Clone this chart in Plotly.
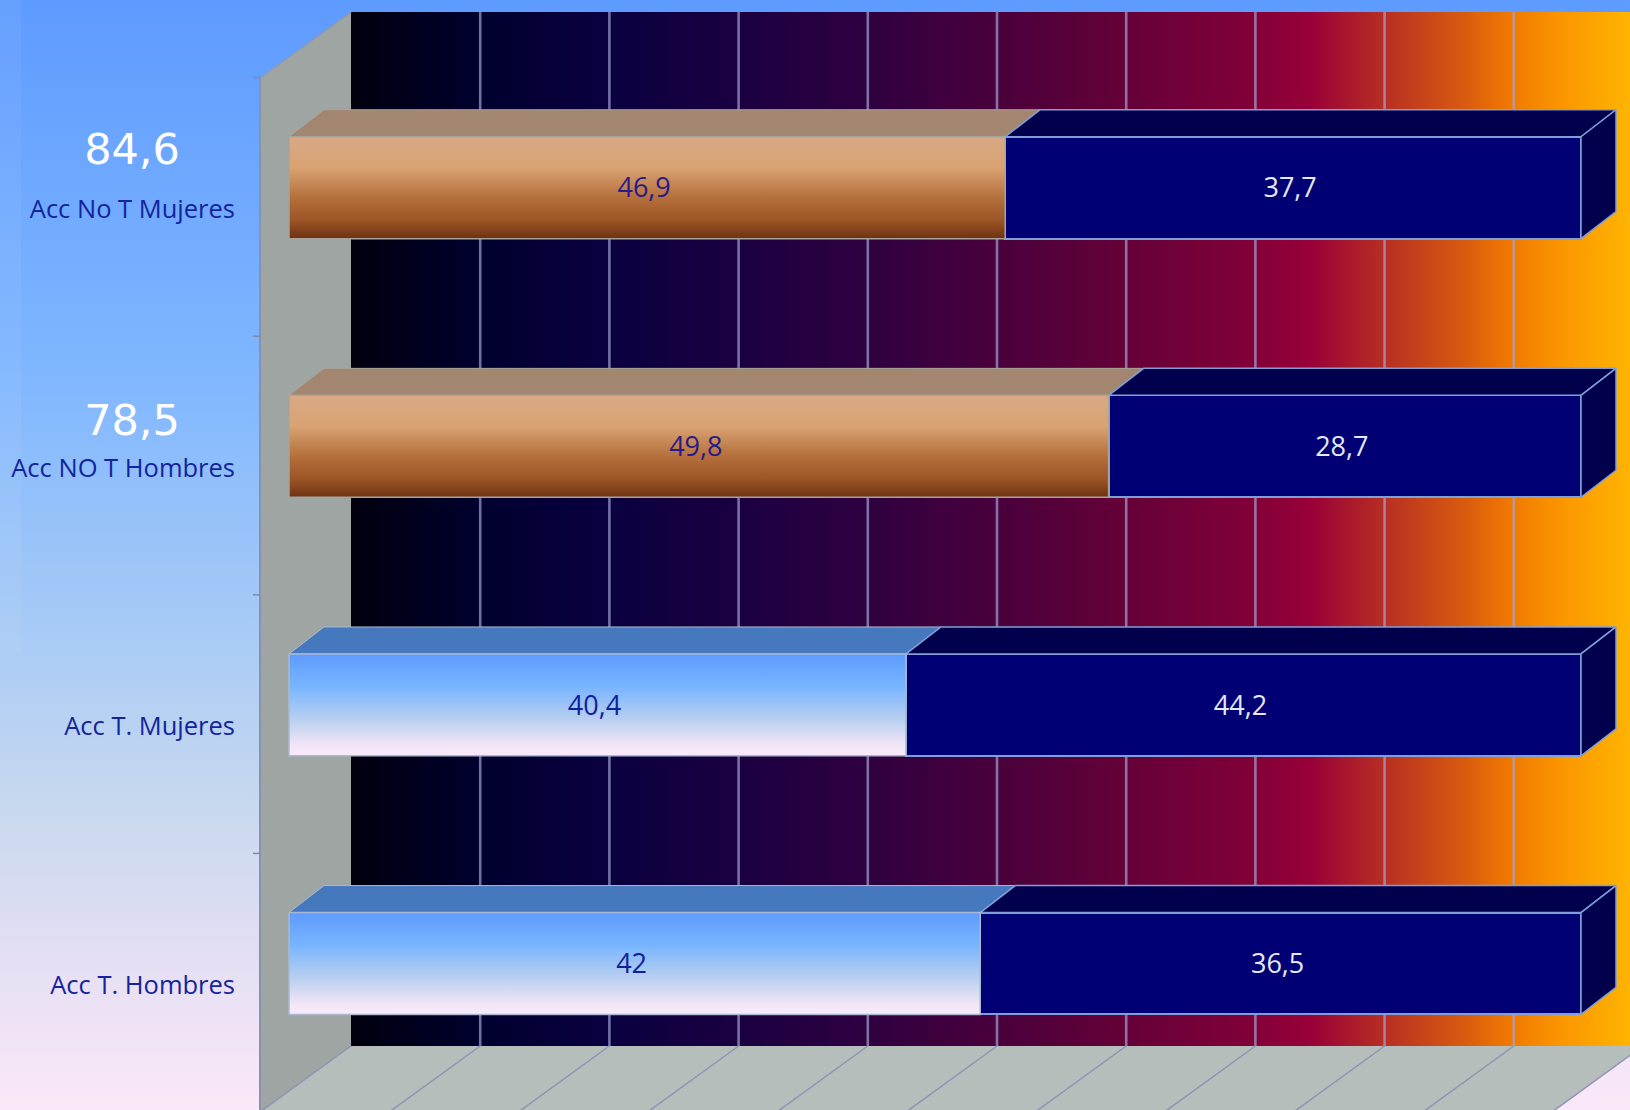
import plotly.graph_objects as go

# ---- data -------------------------------------------------------------
categories = ["Acc T. Hombres", "Acc T. Mujeres", "Acc NO T Hombres", "Acc No T Mujeres"]
first_segment = [42, 40.4, 49.8, 46.9]
second_segment = [36.5, 44.2, 28.7, 37.7]
total_labels = ["", "", "78,5", "84,6"]
share_ticks = [0, 10, 20, 30, 40, 50, 60, 70, 80, 90, 100]

# ---- geometry of the fake 3D box, in axis units -------------------------
PX_PER_SHARE = 12.92
PX_PER_CAT = 258.6
X_RANGE = [-289 / PX_PER_SHARE, (1630 - 289) / PX_PER_SHARE]
Y_RANGE = [(963.5 - 1110) / PX_PER_CAT, 963.5 / PX_PER_CAT]
BAR_W = 0.394
BAR_DX, BAR_DY = 35 / PX_PER_SHARE, 27 / PX_PER_CAT
WALL_X0, WALL_DX, WALL_DY = -29 / PX_PER_SHARE, 91 / PX_PER_SHARE, 66 / PX_PER_CAT
WALL_TOP, WALL_BOTTOM = 885.5 / PX_PER_CAT, -148.5 / PX_PER_CAT


def top_down(stops):
    """Vertical fill gradients run bottom to top; stops below are written top to bottom."""
    return [[round(1 - p, 4), c] for p, c in reversed(stops)]


# ---- colours -----------------------------------------------------------
PAGE = top_down([[0, "#5e9bff"], [0.33, "#7fb6ff"], [0.55, "#a4c9f6"], [0.72, "#c6d8ef"],
                 [0.87, "#e6dff3"], [1, "#fbe8f9"]])
WALL = [[0, "#00000f"], [0.10, "#00002e"], [0.20, "#0a0040"], [0.30, "#1a0040"], [0.40, "#2e0040"],
        [0.50, "#48003c"], [0.60, "#640038"], [0.70, "#800038"], [0.75, "#980038"], [0.81, "#b83022"],
        [0.87, "#d85a10"], [0.905, "#f07800"], [0.95, "#fb9800"], [1.0, "#ffb400"]]
BROWN = top_down([[0, "#d8a985"], [0.3, "#d9a373"], [0.6, "#b46f3c"], [0.82, "#9c5526"], [1, "#6e3212"]])
SKY = top_down([[0, "#5e9bff"], [0.32, "#78b5ff"], [0.62, "#b4cdf0"], [0.9, "#f2e6f6"], [1, "#f8eafa"]])
NAVY, NAVY_DARK = "#000074", "#00004c"
EDGE = "#7f9fd8"
TOP_FACE = ["#4678bd", "#4678bd", "#a38670", "#a38670"]
FRONT = [SKY, SKY, BROWN, BROWN]
EDGE_FIRST = ["#a9b9cf", "#a9b9cf", "#a8a49a", "#a8a49a"]
VALUE_TEXT = ["#10209a", "#10209a", "#2a1a88", "#2a1a88"]
GRID = "rgba(165,165,215,0.68)"
FONT = "Open Sans"

fig = go.Figure()


def poly(xs, ys, fill=None, gradient=None, line=None, lw=1.5, on="x2", yon="y2"):
    kw = dict(x=list(xs) + [xs[0]], y=list(ys) + [ys[0]], mode="lines", fill="toself",
              hoverinfo="skip", showlegend=False, xaxis=on, yaxis=yon,
              line=dict(color=line or "rgba(0,0,0,0)", width=lw if line else 0))
    if gradient:
        kw["fillgradient"] = gradient
    else:
        kw["fillcolor"] = fill
    fig.add_trace(go.Scatter(**kw))


def seg(xs, ys, color, width=2, on="x", yon="y"):
    fig.add_trace(go.Scatter(x=xs, y=ys, mode="lines", line=dict(color=color, width=width),
                             hoverinfo="skip", showlegend=False, xaxis=on, yaxis=yon))


# page background
poly([X_RANGE[0], X_RANGE[1], X_RANGE[1], X_RANGE[0]], [Y_RANGE[1], Y_RANGE[1], Y_RANGE[0], Y_RANGE[0]],
     gradient=dict(type="vertical", colorscale=PAGE), on="x", yon="y")
poly([X_RANGE[0], X_RANGE[0] + 21 / PX_PER_SHARE, X_RANGE[0] + 21 / PX_PER_SHARE, X_RANGE[0]],
     [Y_RANGE[1], Y_RANGE[1], 1.2, 1.2], fill="rgba(255,255,255,0.05)", on="x", yon="y")

# back wall
back0 = WALL_X0 + WALL_DX
back_top = WALL_TOP + WALL_DY
back_bottom = WALL_BOTTOM + WALL_DY
poly([back0, X_RANGE[1], X_RANGE[1], back0], [back_top, back_top, back_bottom, back_bottom],
     gradient=dict(type="horizontal", colorscale=WALL), on="x", yon="y")
# left wall and floor
poly([WALL_X0, back0, back0, WALL_X0], [WALL_TOP, back_top, back_bottom, WALL_BOTTOM],
     fill="#9ea5a2", on="x", yon="y")
poly([WALL_X0, back0, 100 + WALL_X0 + WALL_DX, 100 + WALL_X0], [WALL_BOTTOM, back_bottom, back_bottom, WALL_BOTTOM],
     fill="#b6bebc", on="x", yon="y")
# grid lines
for t in share_ticks:
    xb = t + WALL_X0 + WALL_DX
    xf = t + WALL_X0
    if t > 0:
        seg([xb, xb], [back_top, back_bottom], GRID, 2.6)
    seg([xb, xf], [back_bottom, WALL_BOTTOM], "#8d94b4", 1.5)
# axis line, top edge of left wall and category ticks
seg([WALL_X0, WALL_X0], [WALL_TOP, WALL_BOTTOM], "#8792b0", 2)
seg([WALL_X0, back0], [WALL_TOP, back_top], "#8d98b4", 1.5)
for k in range(len(categories)):
    seg([WALL_X0 - 7 / PX_PER_SHARE, WALL_X0], [WALL_BOTTOM + k + 1, WALL_BOTTOM + k + 1], "#8088a8", 1.5)

# stacked shares
totals = [a + b for a, b in zip(first_segment, second_segment)]
share1 = [100 * a / t for a, t in zip(first_segment, totals)]
share2 = [100 * b / t for b, t in zip(second_segment, totals)]
ypos = list(range(len(categories)))

fig.add_trace(go.Bar(y=ypos, x=share1, orientation="h", width=BAR_W, name="Serie 1",
                     marker=dict(color="#b47040", line=dict(color="#a8a49a", width=0)),
                     hoverinfo="skip", showlegend=False, xaxis="x2", yaxis="y2"))
fig.add_trace(go.Bar(y=ypos, x=share2, orientation="h", width=BAR_W, name="Serie 2",
                     marker=dict(color=NAVY, line=dict(color=EDGE, width=2)),
                     hoverinfo="skip", showlegend=False, xaxis="x2", yaxis="y2"))

for i, y in enumerate(ypos):
    lo, hi = y - BAR_W / 2, y + BAR_W / 2
    s = share1[i]
    # top faces and right side face
    poly([0, s, s + BAR_DX, BAR_DX], [hi, hi, hi + BAR_DY, hi + BAR_DY], fill=TOP_FACE[i], line=EDGE_FIRST[i], lw=1)
    poly([s, 100, 100 + BAR_DX, s + BAR_DX], [hi, hi, hi + BAR_DY, hi + BAR_DY], fill=NAVY_DARK, line=EDGE)
    poly([100, 100 + BAR_DX, 100 + BAR_DX, 100], [hi, hi + BAR_DY, lo + BAR_DY, lo], fill=NAVY_DARK, line=EDGE)
    # gradient front of the first segment
    poly([0, s, s, 0], [hi, hi, lo, lo], gradient=dict(type="vertical", colorscale=FRONT[i]),
         line=EDGE_FIRST[i], lw=1.5)


def fmt(v):
    return str(v).replace(".", ",")


TEXT_DX, TEXT_DY = -3 / PX_PER_SHARE, -3 / PX_PER_CAT
fig.add_trace(go.Scatter(x=[a / 2 + TEXT_DX for a in share1], y=[y + TEXT_DY for y in ypos], mode="text",
                         text=[fmt(v) for v in first_segment],
                         textfont=dict(family=FONT, size=27, color=VALUE_TEXT), textposition="middle center",
                         hoverinfo="skip", showlegend=False, xaxis="x2", yaxis="y2"))
fig.add_trace(go.Scatter(x=[a + b / 2 + TEXT_DX for a, b in zip(share1, share2)], y=[y + TEXT_DY for y in ypos],
                         mode="text", text=[fmt(v) for v in second_segment],
                         textfont=dict(family=FONT, size=27, color="#e6e8fa"), textposition="middle center",
                         hoverinfo="skip", showlegend=False, xaxis="x2", yaxis="y2"))

# category labels
fig.add_trace(go.Scatter(x=[WALL_X0 - 25 / PX_PER_SHARE] * 4, y=[y - 24 / PX_PER_CAT for y in ypos], mode="text",
                         text=categories, textposition="middle left",
                         textfont=dict(family=FONT, size=25.5, color="#14249c"),
                         hoverinfo="skip", showlegend=False, xaxis="x2", yaxis="y2"))
# totals above the top two categories
total_offset = [0, 0, 22, 34]
for i, lab in enumerate(total_labels):
    if lab:
        fig.add_trace(go.Scatter(x=[(132 - 289) / PX_PER_SHARE], y=[ypos[i] + total_offset[i] / PX_PER_CAT], mode="text",
                                 text=[lab], textposition="middle center",
                                 textfont=dict(family="DejaVu Sans", size=43, color="white"),
                                 hoverinfo="skip", showlegend=False, xaxis="x2", yaxis="y2"))

axis = dict(visible=False, showgrid=False, zeroline=False, fixedrange=True)
fig.update_layout(
    width=1630, height=1110, autosize=False, margin=dict(l=0, r=0, t=0, b=0),
    barmode="stack", bargap=0, paper_bgcolor="#5e9bff", plot_bgcolor="rgba(0,0,0,0)", showlegend=False,
    xaxis=dict(range=X_RANGE, **axis), yaxis=dict(range=Y_RANGE, **axis),
    xaxis2=dict(range=X_RANGE, overlaying="x", **axis), yaxis2=dict(range=Y_RANGE, overlaying="y", **axis),
)
fig.write_html("out.html", post_script="document.body.style.margin='0';",
               config={"displayModeBar": False})
